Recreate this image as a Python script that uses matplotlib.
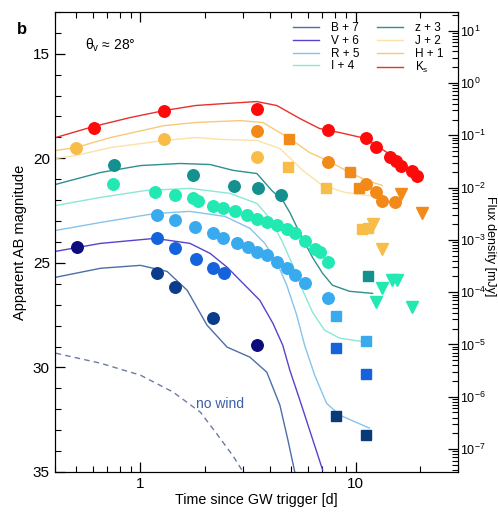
import numpy as np
import matplotlib
matplotlib.use("Agg")
import matplotlib.pyplot as plt
from matplotlib.ticker import FixedLocator, FixedFormatter, MultipleLocator, LogLocator, NullFormatter

plt.rcParams['font.family'] = ['Liberation Sans', 'DejaVu Sans']
plt.rcParams['mathtext.fontset'] = 'custom'
plt.rcParams['mathtext.rm'] = 'Liberation Sans'
plt.rcParams['mathtext.it'] = 'Liberation Sans:italic'

##############################################################################
""" DATA """
# model light curves (time [d], magnitude incl. offset)
ks_t = [0.404, 0.606, 0.90, 1.29, 1.80, 2.42, 3.48, 4.31, 5.51, 6.81, 8.43, 11.2, 14.7, 19.4]
ks_m = [19.01, 18.48, 18.05, 17.72, 17.48, 17.39, 17.29, 17.48, 18.10, 18.58, 18.77, 19.06, 19.87, 20.87]
h_t = [0.404, 0.50, 0.726, 1.29, 1.80, 2.90, 3.71, 4.95, 6.12, 7.42, 9.38, 11.2, 13.3]
h_m = [19.63, 19.49, 19.01, 18.44, 18.29, 18.20, 18.29, 19.06, 19.73, 20.11, 20.68, 21.05, 21.30]
j_t = [0.404, 0.50, 0.726, 1.29, 1.80, 2.42, 3.48, 4.45, 5.68, 7.03, 8.92, 12.5]
j_m = [20.01, 19.87, 19.49, 19.15, 19.01, 19.10, 19.15, 19.53, 20.58, 21.30, 21.63, 21.83]
z_t = [0.404, 0.653, 1.0, 1.53, 2.11, 2.70, 3.48, 4.08, 4.59, 4.95, 5.51, 6.31, 7.03, 7.81, 9.38, 12.0]
z_m = [21.25, 20.68, 20.35, 20.25, 20.30, 20.58, 20.73, 21.54, 22.02, 22.59, 23.59, 24.74, 25.50, 26.07, 26.36, 26.46]
i_t = [0.404, 0.653, 1.06, 1.70, 2.61, 3.48, 4.0, 4.54, 5.11, 5.68, 6.31, 7.18, 8.43, 11.2]
i_m = [22.26, 21.87, 21.54, 21.44, 21.68, 22.16, 22.88, 23.93, 25.12, 26.31, 27.36, 28.22, 28.60, 28.79]
r_t = [0.404, 0.653, 1.17, 1.70, 2.47, 3.23, 3.79, 4.31, 4.79, 5.33, 5.80, 6.46, 7.33, 8.43, 11.6]
r_m = [23.45, 23.07, 22.64, 22.54, 22.78, 23.35, 24.07, 24.98, 26.07, 27.50, 28.94, 30.37, 31.71, 32.28, 32.90]
v_t = [0.404, 0.653, 1.17, 1.70, 2.11, 2.53, 3.13, 3.59, 4.13, 4.59, 4.95, 5.51, 6.12, 7.03]
v_m = [24.45, 24.07, 23.83, 24.07, 24.55, 25.21, 26.17, 26.79, 27.89, 28.94, 30.13, 31.56, 33.00, 34.90]
b_t = [0.404, 0.653, 1.0, 1.33, 1.65, 2.04, 2.53, 3.23, 3.87, 4.45, 4.85, 5.22]
b_m = [25.69, 25.26, 25.12, 25.41, 26.31, 27.98, 29.03, 29.51, 30.23, 31.80, 33.47, 35.0]
nowind_t = [0.404, 0.653, 1.0, 1.42, 1.90, 2.27, 2.70, 2.96]
nowind_m = [29.32, 29.80, 30.37, 31.18, 32.14, 33.19, 34.24, 34.90]

# observations: circles, squares, upper limits (triangles)
ks_obs_t = [0.606, 1.29, 3.48, 7.42, 11.2, 12.5, 14.4, 15.5, 16.3, 18.4, 19.4]
ks_obs_m = [18.53, 17.72, 17.63, 18.63, 19.01, 19.44, 19.96, 20.11, 20.35, 20.63, 20.87]
h_obs_t = [3.48, 7.42, 11.2, 12.4, 13.3, 15.3]
h_obs_m = [18.72, 20.20, 21.25, 21.59, 22.02, 22.11]
h_sq_t = [4.90, 9.38, 10.4]
h_sq_m = [19.06, 20.68, 21.40]
h_ul_t = [16.3, 20.4]
h_ul_m = [21.73, 22.64]
j_obs_t = [0.50, 1.29, 3.48]
j_obs_m = [19.53, 19.10, 19.96]
j_sq_t = [4.84, 7.26, 10.7, 11.4]
j_sq_m = [20.44, 21.40, 23.40, 23.35]
j_ul_t = [12.1, 13.3]
j_ul_m = [23.16, 24.36]
z_obs_t = [0.75, 1.76, 2.72, 3.52, 4.50]
z_obs_m = [20.30, 20.82, 21.35, 21.44, 21.78]
z_sq_t = [11.4]
z_sq_m = [25.64]
i_obs_t = [0.742, 1.17, 1.45, 1.76, 1.86, 2.18, 2.42, 2.75, 3.13, 3.48, 3.87, 4.31,
           4.79, 5.22, 5.80, 6.46, 6.81, 7.42]
i_obs_m = [21.25, 21.59, 21.78, 21.92, 22.02, 22.26, 22.40, 22.54, 22.73, 22.92, 23.07, 23.21,
           23.40, 23.59, 23.97, 24.36, 24.50, 24.98]
i_ul_t = [12.5, 13.3, 14.7, 15.6, 18.4]
i_ul_m = [26.89, 26.22, 25.84, 25.84, 27.12]
r_obs_t = [1.19, 1.45, 1.80, 2.18, 2.42, 2.81, 3.16, 3.48, 3.87, 4.31, 4.79, 5.22, 5.80, 7.42]
r_obs_m = [22.69, 22.97, 23.31, 23.59, 23.83, 24.07, 24.26, 24.50, 24.64, 24.98, 25.26, 25.60, 25.98, 26.69]
r_sq_t = [8.08, 11.2]
r_sq_m = [27.55, 28.75]
v_obs_t = [1.20, 1.45, 1.82, 2.18, 2.45]
v_obs_m = [23.83, 24.31, 24.83, 25.26, 25.50]
v_sq_t = [8.08, 11.2]
v_sq_m = [29.08, 30.32]
v_dark_t = [0.505, 3.48]
v_dark_m = [24.26, 28.94]
b_obs_t = [1.19, 1.45, 2.18]
b_obs_m = [25.50, 26.17, 27.65]
b_sq_t = [8.08, 11.2]
b_sq_m = [32.33, 33.23]

##############################################################################
""" FIGURE """
fig = plt.figure(figsize=(4.98, 5.15), dpi=100)
ax = fig.add_axes([0.110, 0.0835, 0.810, 0.8935])

lines = [
    (b_t, b_m, '#4d6fa6', 'B + 7'),
    (v_t, v_m, '#5544cc', 'V + 6'),
    (r_t, r_m, '#86c4ec', 'R + 5'),
    (i_t, i_m, '#8ae8d6', 'I + 4'),
    (z_t, z_m, '#2e8f90', 'z + 3'),
    (j_t, j_m, '#fbe2a6', 'J + 2'),
    (h_t, h_m, '#f8ca78', 'H + 1'),
    (ks_t, ks_m, '#e8302c', 'K$_\\mathrm{s}$'),
]
for t, m, c, lab in lines:
    ax.plot(t, m, color=c, lw=1.0, label=lab, zorder=2)

ax.plot(nowind_t, nowind_m, color='#6a7ca6', lw=1.0, ls=(0, (4, 3)), zorder=2)
ax.text(1.82, 31.75, 'no wind', color='#3c5fa8', fontsize=10, ha='left', va='center')

ms = 8.3
def dots(t, m, c, mk='o', size=ms):
    ax.plot(t, m, ls='none', marker=mk, ms=size, color=c, mec=c, zorder=3)

dots(ks_obs_t, ks_obs_m, '#ff0a0a')
dots(h_obs_t, h_obs_m, '#f28a1a')
dots(h_sq_t, h_sq_m, '#f28a1a', 's', 7.5)
dots(h_ul_t, h_ul_m, '#f28a1a', 'v', 8)
dots(j_obs_t, j_obs_m, '#f8bd48')
dots(j_sq_t, j_sq_m, '#f8bd48', 's', 7.5)
dots(j_ul_t, j_ul_m, '#f8bd48', 'v', 8)
dots(z_obs_t, z_obs_m, '#14908f')
dots(z_sq_t, z_sq_m, '#14908f', 's', 7.5)
dots(i_obs_t, i_obs_m, '#22e8b2')
dots(i_ul_t, i_ul_m, '#22e8b2', 'v', 8)
dots(r_obs_t, r_obs_m, '#3aaaee')
dots(r_sq_t, r_sq_m, '#3aaaee', 's', 7.5)
dots(v_obs_t, v_obs_m, '#1462dc')
dots(v_sq_t, v_sq_m, '#1462dc', 's', 7.5)
dots(v_dark_t, v_dark_m, '#0c0c7c')
dots(b_obs_t, b_obs_m, '#0b3c8c')
dots(b_sq_t, b_sq_m, '#0b3a78', 's', 7.5)

ax.set_xscale('log')
ax.set_xlim(0.4, 30)
ax.set_ylim(35, 13)
ax.xaxis.set_major_locator(FixedLocator([1, 10]))
ax.xaxis.set_major_formatter(FixedFormatter(['1', '10']))
ax.xaxis.set_minor_locator(LogLocator(base=10, subs=np.arange(2, 10), numticks=20))
ax.xaxis.set_minor_formatter(NullFormatter())
ax.yaxis.set_major_locator(MultipleLocator(5))
ax.yaxis.set_minor_locator(MultipleLocator(1))
ax.tick_params(which='both', direction='in', top=True, right=False, labelsize=11)
ax.tick_params(which='major', length=7, width=0.9)
ax.tick_params(which='minor', length=4, width=0.8)
ax.set_xlabel('Time since GW trigger [d]', fontsize=10.3)
ax.xaxis.set_label_coords(0.5, -0.046)
ax.set_ylabel('Apparent AB magnitude', fontsize=10.5, labelpad=4)

# flux density axis (mJy), AB: m = 16.4 - 2.5 log10(F)
ax2 = ax.twinx()
ax2.set_yscale('log')
ax2.set_ylim(10 ** ((16.4 - 35) / 2.5), 10 ** ((16.4 - 13) / 2.5))
ax2.yaxis.set_major_locator(LogLocator(base=10, numticks=20))
ax2.yaxis.set_minor_locator(LogLocator(base=10, subs=np.arange(2, 10), numticks=20))
ax2.yaxis.set_minor_formatter(NullFormatter())
ax2.tick_params(which='both', direction='in', labelsize=9, pad=1)
ax2.tick_params(which='major', length=7, width=0.9)
ax2.tick_params(which='minor', length=4, width=0.8)
ax2.set_ylabel('Flux density [mJy]', fontsize=9, rotation=270, va='center')
ax2.yaxis.set_label_coords(1.079, 0.49)

ax.legend(ncol=2, loc='upper right', bbox_to_anchor=(0.99, 1.0), frameon=False,
          fontsize=8.5, handlelength=2.2, labelspacing=0.05, columnspacing=1.5,
          handletextpad=1.0)

ax.text(0.075, 0.928, r'θ$_\mathrm{v}$ ≈ 28°', transform=ax.transAxes, fontsize=10,
        ha='left', va='center')
fig.text(0.035, 0.942, 'b', fontsize=12, fontweight='bold', ha='left', va='center')

fig.savefig('out.png', dpi=100)
